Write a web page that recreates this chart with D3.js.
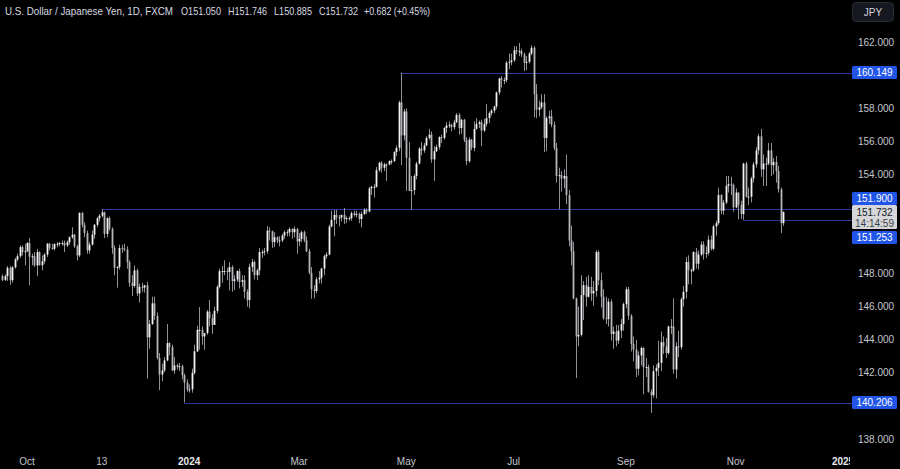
<!DOCTYPE html>
<html>
<head>
<meta charset="utf-8">
<script src="https://cdn.jsdelivr.net/npm/d3@7"></script>
<style>
  body { margin: 0; background: #000; overflow: hidden; }
  svg { display: block; }
</style>
</head>
<body>
<script>
// USD/JPY daily bars, [open, high, low, close], one array per month
var sep23 = [[147.85,147.95,147.55,147.62],[147.62,147.95,147.55,147.85],[147.85,148.45,147.55,148.35],[148.35,148.45,147.32,147.60],[147.60,148.45,147.45,148.38],
  [148.38,148.95,148.30,148.85],[148.85,149.20,148.75,149.05],[149.05,149.70,148.95,149.60],[149.60,149.70,149.10,149.30],[149.30,149.80,148.50,149.35]];
var oct23 = [[149.35,149.90,149.30,149.85],[149.85,150.16,147.30,149.02],[149.02,149.20,148.50,149.05],[149.05,149.30,148.40,148.50],[148.50,149.50,147.85,149.30],
  [149.30,149.35,148.50,148.50],[148.50,149.10,148.20,148.75],[148.75,149.25,148.60,149.15],[149.15,149.85,149.00,149.80],[149.80,149.85,149.40,149.55],
  [149.55,149.80,149.45,149.50],[149.50,149.80,149.40,149.80],[149.80,149.90,149.60,149.80],[149.80,149.90,149.65,149.85],[149.85,150.00,149.70,149.85],
  [149.85,150.00,149.30,149.70],[149.70,150.00,149.60,149.90],[149.90,150.25,149.75,150.20],[150.20,150.80,150.10,150.35],[150.35,150.40,149.55,149.65],
  [149.65,149.75,148.80,149.10],[149.10,151.70,149.00,151.67]];
var nov23 = [[151.67,151.72,150.80,150.95],[150.95,151.10,150.20,150.45],[150.45,150.60,149.20,149.40],
  [149.40,149.90,149.20,149.75],[149.75,150.60,149.70,150.35],[150.35,151.00,150.10,150.95],[150.95,151.40,150.80,151.35],[151.35,151.60,151.15,151.50],
  [151.50,151.91,151.40,151.70],[151.70,151.75,150.15,150.40],[150.40,151.40,150.20,151.35],[151.35,151.45,150.60,150.70],[150.70,150.80,149.20,149.55],
  [149.55,149.70,147.90,148.35],[148.35,148.45,147.15,148.40],[148.40,149.75,148.25,149.55],[149.55,149.75,149.25,149.50],[149.50,149.80,149.35,149.45],
  [149.45,149.65,148.30,148.70],[148.70,148.80,147.20,147.45],[147.45,147.90,146.65,147.25],[147.25,148.50,147.15,148.20]];
var dec23 = [[148.20,148.30,146.65,146.80],
  [146.80,147.40,146.25,147.20],[147.20,147.45,146.90,147.15],[147.15,147.30,146.85,147.30],[147.30,147.50,141.65,144.15],[144.15,145.20,143.45,144.95],
  [144.95,146.60,144.90,146.20],[146.20,146.60,145.20,145.45],[145.45,145.65,142.80,142.90],[142.90,143.20,140.95,141.90],[141.90,142.55,141.50,142.15],
  [142.15,142.95,142.05,142.75],[142.75,144.95,142.70,143.80],[143.80,143.85,143.05,143.55],[143.55,143.70,142.10,142.15],[142.15,142.95,141.95,142.45],
  [142.45,142.55,142.20,142.35],[142.35,142.60,142.10,142.40],[142.40,142.50,141.60,141.85],[141.85,141.95,140.206,141.40],[141.40,141.60,140.85,141.00]];
var jan24 = [[141.00,141.30,140.80,141.00],[141.00,142.25,140.80,142.00],[142.00,143.70,141.90,143.30],[143.30,144.85,143.25,144.60],[144.60,145.98,143.40,144.60],
  [144.60,144.80,143.70,144.20],[144.20,144.40,143.40,144.40],[144.40,145.80,144.30,145.70],[145.70,146.40,144.80,145.30],[145.30,145.55,144.35,144.90],
  [144.90,146.00,144.90,145.75],[145.75,147.30,145.60,147.20],[147.20,148.30,147.10,148.15],[148.15,148.45,147.45,148.15],[148.15,148.80,147.90,148.15],
  [148.15,148.35,147.60,148.10],[148.10,148.70,146.98,148.40],[148.40,148.50,146.90,147.55],[147.55,147.90,147.00,147.65],[147.65,148.20,147.50,148.15],
  [148.15,148.30,147.10,147.50],[147.50,147.90,147.20,147.60],[147.60,147.90,146.50,146.90]];
var feb24 = [[146.90,147.05,146.00,146.40],[146.40,148.60,145.90,148.40],
  [148.40,148.90,148.10,148.70],[148.70,148.80,147.65,147.90],[147.90,148.30,147.60,148.20],[148.20,149.55,147.90,149.30],[149.30,149.45,148.95,149.30],
  [149.30,149.55,149.10,149.35],[149.35,150.88,149.20,150.60],[150.60,150.80,150.00,150.55],[150.55,150.60,149.55,149.90],[149.90,150.50,149.60,150.20],
  [150.20,150.25,149.85,150.00],[150.00,150.25,149.65,150.00],[150.00,150.40,149.90,150.30],[150.30,150.60,150.10,150.50],[150.50,150.65,150.25,150.50],
  [150.50,150.80,150.25,150.70],[150.70,150.75,150.10,150.50],[150.50,150.85,150.20,150.70],[150.70,150.75,149.20,149.95]];
var mar24 = [[149.95,150.45,149.65,150.10],
  [150.10,150.60,149.90,150.50],[150.50,150.60,149.90,150.00],[150.00,150.25,149.30,149.35],[149.35,149.50,147.95,148.05],[148.05,148.40,146.48,147.05],
  [147.05,147.30,146.50,146.95],[146.95,147.80,146.80,147.65],[147.65,148.15,147.40,147.75],[147.75,148.35,147.40,148.30],[148.30,149.15,147.90,149.05],
  [149.05,149.30,148.90,149.15],[149.15,150.95,149.10,150.85],[150.85,151.80,150.80,151.25],[151.25,151.85,150.25,151.55],[151.55,151.85,151.00,151.40],
  [151.40,151.55,150.85,151.40],[151.40,151.55,151.15,151.55],[151.55,151.97,151.00,151.30],[151.30,151.45,151.05,151.35],[151.35,151.45,151.20,151.35]];
var apr24 = [[151.35,151.75,151.20,151.65],[151.65,151.80,151.45,151.55],[151.55,151.80,151.40,151.60],[151.60,151.70,151.05,151.30],[151.30,151.75,150.80,151.60],
  [151.60,151.95,151.55,151.85],[151.85,151.95,151.60,151.75],[151.75,153.25,151.70,153.15],[153.15,153.30,152.75,153.25],[153.25,153.40,152.60,153.25],
  [153.25,154.45,153.20,154.25],[154.25,154.75,154.15,154.70],[154.70,154.80,154.10,154.40],[154.40,154.70,154.20,154.60],[154.60,154.65,153.60,154.60],
  [154.60,154.85,154.55,154.80],[154.80,154.90,154.60,154.80],[154.80,155.40,154.75,155.35],[155.35,155.75,155.10,155.60],[155.60,158.45,155.40,158.35],
  [158.35,160.149,154.55,156.35],[156.35,157.95,156.05,157.80]];
var may24 = [[157.80,157.99,153.00,155.00],[155.00,155.95,152.99,153.00],[153.00,153.90,151.86,153.05],
  [153.05,154.00,152.75,153.90],[153.90,154.75,153.70,154.65],[154.65,155.65,154.60,155.55],[155.55,155.95,155.15,155.45],[155.45,155.90,155.30,155.75],
  [155.75,156.30,155.70,156.20],[156.20,156.75,156.10,156.40],[156.40,156.60,154.70,154.90],[154.90,155.70,153.60,155.40],[155.40,155.80,155.35,155.65],
  [155.65,156.30,155.50,156.25],[156.25,156.40,155.90,156.20],[156.20,156.85,156.10,156.80],[156.80,157.15,156.50,156.95],[156.95,157.20,156.80,157.00],
  [157.00,157.05,156.60,156.85],[156.85,157.30,156.70,157.15],[157.15,157.70,157.10,157.60],[157.60,157.70,156.40,156.80],[156.80,157.35,156.45,157.30]];
var jun24 = [[157.30,157.35,155.95,156.10],[156.10,156.25,154.55,154.80],[154.80,156.25,154.70,156.10],[156.10,156.15,155.45,155.60],[155.60,157.20,155.40,156.75],
  [156.75,157.40,156.70,157.05],[157.05,157.25,156.80,157.15],[157.15,157.30,155.70,156.65],[156.65,157.35,156.55,157.05],[157.05,158.25,156.90,157.40],
  [157.40,157.80,157.10,157.70],[157.70,157.95,157.55,157.85],[157.85,158.15,157.70,158.10],[158.10,159.00,157.95,158.95],[158.95,159.85,158.80,159.80],
  [159.80,159.95,159.25,159.70],[159.70,159.85,159.45,159.70],[159.70,160.85,159.55,160.75],[160.75,161.30,160.35,160.80],[160.80,161.30,160.60,160.90]];
var jul24 = [[160.90,161.75,160.80,161.50],[161.50,161.75,161.25,161.45],[161.45,161.95,161.15,161.45],[161.45,161.60,161.10,161.25],[161.25,161.35,160.25,160.75],
  [160.75,161.15,160.30,160.80],[160.80,161.40,160.70,161.30],[161.30,161.80,161.20,161.65],[161.65,161.75,157.45,158.85],[158.85,159.45,157.40,157.90],
  [157.90,158.45,157.50,158.05],[158.05,158.85,157.95,158.35],[158.35,158.85,155.35,156.20],[156.20,157.50,155.40,157.40],[157.40,157.85,157.05,157.50],
  [157.50,157.90,156.85,157.00],[157.00,157.20,155.45,155.60],[155.60,155.90,153.50,153.90],[153.90,154.40,151.90,153.95],[153.95,154.20,152.95,153.75],
  [153.75,154.30,153.15,153.90],[153.90,155.20,152.20,152.75],[152.75,153.05,149.65,150.00]];
var aug24 = [[150.00,150.90,148.50,149.35],[149.35,149.90,146.45,146.50],
  [146.50,146.55,141.68,144.20],[144.20,146.00,143.60,144.30],[144.30,147.90,144.20,146.70],[146.70,147.55,145.20,147.30],[147.30,147.80,146.00,146.60],
  [146.60,147.90,146.55,147.20],[147.20,147.80,146.35,146.80],[146.80,147.55,146.05,146.95],[146.95,149.40,146.60,149.30],[149.30,149.40,147.30,147.60],
  [147.60,148.05,145.95,146.60],[146.60,147.05,145.20,145.30],[145.30,146.60,144.95,145.25],[145.25,146.50,144.80,146.30],[146.30,146.45,143.95,144.35],
  [144.35,144.80,143.45,144.50],[144.50,144.90,143.60,143.95],[143.95,144.90,143.75,144.55],[144.55,145.25,144.10,144.95],[144.95,146.25,144.55,146.15]];
var sep24 = [[146.15,147.20,145.90,147.05],[147.05,147.20,145.20,145.45],[145.45,145.55,143.30,143.75],[143.75,144.20,142.70,143.40],[143.40,144.00,141.75,142.25],
  [142.25,143.30,141.85,143.05],[143.05,143.60,142.45,143.50],[143.50,143.55,140.70,142.35],[142.35,142.90,141.75,142.35],[142.35,142.50,140.80,140.85],
  [140.85,141.00,139.58,140.65],[140.65,142.45,140.50,142.10],[142.10,142.50,140.45,142.30],[142.30,143.95,141.80,142.60],[142.60,144.50,142.10,143.85],
  [143.85,144.20,143.15,143.60],[143.60,144.10,142.90,143.20],[143.20,144.85,143.10,144.80],[144.80,145.25,144.35,144.80],[144.80,146.50,141.95,142.20],
  [142.20,143.85,141.65,143.60]];
var oct24 = [[143.60,144.55,142.95,143.55],[143.55,146.55,143.40,146.45],[146.45,147.25,146.00,146.90],[146.90,149.00,146.50,148.70],
  [148.70,149.10,147.35,148.20],[148.20,148.30,147.35,148.20],[148.20,149.35,148.10,149.30],[149.30,149.55,148.30,148.60],[148.60,149.40,148.25,149.15],
  [149.15,149.95,149.05,149.75],[149.75,149.95,148.85,149.20],[149.20,149.65,148.95,149.25],[149.25,150.30,149.10,150.05],[150.05,150.30,149.40,149.50],
  [149.50,150.95,149.40,150.85],[150.85,151.20,150.30,151.05],[151.05,153.20,150.95,152.75],[152.75,152.80,151.60,151.80],[151.80,152.45,151.55,152.30],
  [152.30,153.90,152.20,153.30],[153.30,153.90,152.90,153.40],[153.40,153.85,152.75,153.35],[153.35,153.45,151.75,152.00]];
var nov24 = [[152.00,153.15,151.95,152.90],
  [152.90,152.90,151.27,152.15],[152.15,152.40,151.30,151.60],[151.60,154.70,151.253,154.65],[154.65,154.75,152.60,152.65],[152.65,153.20,152.15,152.65],
  [152.65,153.85,152.30,153.75],[153.75,154.75,153.50,154.60],[154.60,155.65,154.40,155.45],[155.45,156.45,155.20,156.30],[156.30,156.75,153.85,154.30],
  [154.30,155.20,153.30,154.65],[154.65,155.00,153.30,154.65],[154.65,155.90,154.55,155.45],[155.45,155.90,153.90,154.55],[154.55,155.00,154.00,154.75],
  [154.75,155.10,153.50,154.20],[154.20,154.50,152.90,153.10],[153.10,153.20,150.45,151.05],[151.05,151.746,150.885,151.732]];

var months = [sep23, oct23, nov23, dec23, jan24, feb24, mar24, apr24, may24, jun24, jul24, aug24, sep24, oct24, nov24];
var firstDay = "2023-09-18";

var yTicks = [162, 158, 156, 154, 148, 146, 144, 142, 138];
var xTickLabels = ["Oct", "13", "2024", "Mar", "May", "Jul", "Sep", "Nov", "2025"];
var xTickDates = ["2023-10-02", "2023-11-13", "2024-01-01", "2024-03-01", "2024-05-01", "2024-07-01", "2024-09-02", "2024-11-01", "2025-01-01"];
var xTickBold = [false, false, true, false, false, false, false, false, true];

var levelValues = [160.149, 151.900, 151.253, 140.206];
var levelStarts = ["2024-04-29", "2023-11-13", "2024-11-06", "2023-12-28"];
var lastPrice = 151.732;
var countdown = "14:14:59";

var header = [
  ["U.S. Dollar / Japanese Yen, 1D, FXCM", 5, 168],
  ["O151.050", 181, 40],
  ["H151.746", 228, 39],
  ["L150.885", 274, 38],
  ["C151.732", 319, 39],
  ["+0.682 (+0.45%)", 364, 66]
];

var width = 900, height = 469, paneRight = 852;
var fmt = d3.utcFormat("%Y-%m-%d");
var days = d3.utcDay.range(new Date(firstDay + "T00:00:00Z"), new Date("2025-01-10T00:00:00Z"))
  .filter(function(d) { return d.getUTCDay() !== 0 && d.getUTCDay() !== 6; });
var dayIndex = {};
days.forEach(function(d, i) { dayIndex[fmt(d)] = i; });

var bars = [];
months.forEach(function(m) {
  m.forEach(function(b) {
    bars.push({ i: bars.length, o: b[0], h: b[1], l: b[2], c: b[3] });
  });
});

var xScale = d3.scaleLinear()
  .domain([dayIndex["2023-10-02"], dayIndex["2025-01-01"]])
  .range([27, 843]);
var yScale = d3.scaleLinear()
  .domain([138, 162])
  .range([439, 42]);

var svg = d3.select("body")
  .append("svg")
  .attr("width", width)
  .attr("height", height)
  .style("background", "#000")
  .style("font-family", "'Liberation Sans', Arial, sans-serif");

var defs = svg.append("defs");
defs.append("clipPath")
  .attr("id", "pane")
  .append("rect")
  .attr("x", 0).attr("y", 0)
  .attr("width", paneRight).attr("height", height);
// the time labels get cut a little before the price scale
defs.append("clipPath")
  .attr("id", "timeclip")
  .append("rect")
  .attr("x", 0).attr("y", 0)
  .attr("width", paneRight - 2).attr("height", height);

var pane = svg.append("g").attr("clip-path", "url(#pane)");

// level lines
levelValues.forEach(function(v, k) {
  var y = Math.round(yScale(v)) + 0.5;
  pane.append("line")
    .attr("x1", xScale(dayIndex[levelStarts[k]]))
    .attr("x2", paneRight)
    .attr("y1", y).attr("y2", y)
    .attr("stroke", "#32369a")
    .attr("stroke-width", 1);
});

// candles
var candle = pane.append("g")
  .selectAll("g")
  .data(bars)
  .enter()
  .append("g");
candle.append("line")
  .attr("x1", function(d) { return Math.round(xScale(d.i)) + 0.5; })
  .attr("x2", function(d) { return Math.round(xScale(d.i)) + 0.5; })
  .attr("y1", function(d) { return yScale(d.h); })
  .attr("y2", function(d) { return yScale(d.l); })
  .attr("stroke", "#8f9196")
  .attr("stroke-width", 1);
candle.append("rect")
  .attr("x", function(d) { return Math.round(xScale(d.i)) - 0.4; })
  .attr("width", 1.8)
  .attr("y", function(d) { return yScale(Math.max(d.o, d.c)); })
  .attr("height", function(d) { return Math.max(1, Math.abs(yScale(d.o) - yScale(d.c))); })
  .attr("fill", function(d) { return d.c >= d.o ? "#f2f2f2" : "#b5b7bb"; });

// x axis labels
var timeAxis = svg.append("g").attr("clip-path", "url(#timeclip)");
xTickLabels.forEach(function(t, k) {
  timeAxis.append("text")
    .attr("x", xScale(dayIndex[xTickDates[k]]))
    .attr("y", 465)
    .attr("text-anchor", "middle")
    .attr("font-size", 10)
    .attr("font-weight", xTickBold[k] ? "bold" : "normal")
    .attr("fill", xTickBold[k] ? "#e8e9ec" : "#c3c6cd")
    .text(t);
});

// header
header.forEach(function(h) {
  svg.append("text")
    .attr("x", h[1])
    .attr("y", 15)
    .attr("font-size", 10.5)
    .attr("fill", "#d8dae0")
    .attr("textLength", h[2])
    .attr("lengthAdjust", "spacingAndGlyphs")
    .text(h[0]);
});

// price axis
yTicks.forEach(function(v) {
  svg.append("text")
    .attr("x", 876)
    .attr("y", yScale(v))
    .attr("dy", "0.35em")
    .attr("text-anchor", "middle")
    .attr("font-size", 10)
    .attr("fill", "#c3c6cd")
    .text(d3.format(".3f")(v));
});

// JPY button
svg.append("rect")
  .attr("x", 852.5).attr("y", 2.5)
  .attr("width", 41).attr("height", 19)
  .attr("rx", 4)
  .attr("fill", "#16181f")
  .attr("stroke", "#2c2f38");
svg.append("text")
  .attr("x", 873).attr("y", 12)
  .attr("dy", "0.35em")
  .attr("text-anchor", "middle")
  .attr("font-size", 10)
  .attr("fill", "#d1d4dc")
  .text("JPY");

// level labels (stacked around the last price like the original)
var labelY = [yScale(levelValues[0]), 198.5, 237.5, yScale(levelValues[3])];
levelValues.forEach(function(v, k) {
  svg.append("rect")
    .attr("x", 852).attr("y", labelY[k] - 6.5)
    .attr("width", 45).attr("height", 13)
    .attr("rx", 1.5)
    .attr("fill", "#2155e8");
  svg.append("text")
    .attr("x", 874.5).attr("y", labelY[k])
    .attr("dy", "0.35em")
    .attr("text-anchor", "middle")
    .attr("font-size", 10)
    .attr("fill", "#ffffff")
    .text(d3.format(".3f")(v));
});

svg.append("rect")
  .attr("x", 852).attr("y", 205)
  .attr("width", 45).attr("height", 24)
  .attr("rx", 1.5)
  .attr("fill", "#d5d6d9");
svg.append("text")
  .attr("x", 874.5).attr("y", 212)
  .attr("dy", "0.35em")
  .attr("text-anchor", "middle")
  .attr("font-size", 10)
  .attr("fill", "#131722")
  .text(d3.format(".3f")(lastPrice));
svg.append("text")
  .attr("x", 874.5).attr("y", 223)
  .attr("dy", "0.35em")
  .attr("text-anchor", "middle")
  .attr("font-size", 10)
  .attr("fill", "#3a3d46")
  .text(countdown);
</script>
</body>
</html>
